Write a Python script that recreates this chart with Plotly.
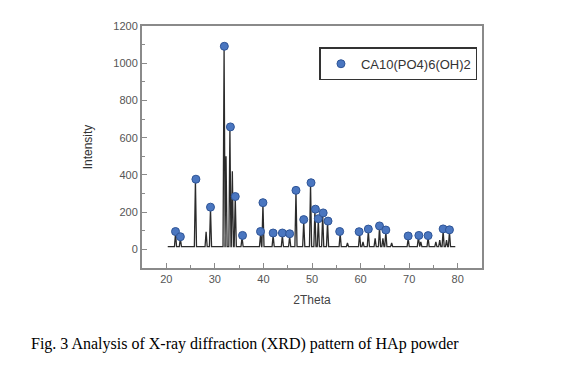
import plotly.graph_objects as go

# Diffraction line: peak positions (2Theta) and peak-top intensities
peak_pos = [21.9, 22.9, 26.0, 28.2, 29.1, 31.9, 32.3, 33.1, 33.6, 34.2, 35.6,
            39.4, 39.9, 42.0, 43.9, 45.4, 46.7, 48.3, 49.7, 50.6, 51.3, 52.2,
            53.2, 55.8, 57.3, 59.8, 60.5, 61.6, 63.0, 63.9, 64.6, 65.2, 66.4,
            69.8, 71.9, 72.4, 73.9, 75.5, 76.3, 77.0, 77.7, 78.3]
peak_int = [85, 60, 370, 95, 220, 1080, 500, 650, 420, 280, 65,
            80, 245, 75, 75, 70, 310, 150, 350, 210, 160, 190,
            145, 85, 35, 85, 40, 100, 60, 120, 60, 95, 35,
            60, 65, 40, 65, 40, 50, 100, 50, 95]
baseline = 15
x_start, x_end = 20.3, 79.5

# Indexed HAp reflections (markers)
mark_pos = [21.9, 22.9, 26.1, 29.1, 31.95, 33.2, 34.2, 35.7, 39.4, 39.9, 42.0,
            43.9, 45.4, 46.7, 48.3, 49.8, 50.7, 51.3, 52.3, 53.3, 55.7, 59.7,
            61.6, 63.9, 65.2, 69.8, 72.0, 73.9, 77.0, 78.3]
mark_int = [96, 68, 377, 227, 1091, 658, 284, 75, 96, 251, 88,
            88, 84, 317, 160, 358, 216, 165, 196, 152, 96, 95,
            109, 126, 104, 72, 75, 74, 110, 105]

x_ticks = [20, 30, 40, 50, 60, 70, 80]
y_ticks = [0, 200, 400, 600, 800, 1000, 1200]

# build the stick/triangle line from the peak list
hw = 0.22
lx, ly = [x_start], [baseline]
for p, h in zip(peak_pos, peak_int):
    lx += [p - hw, p, p + hw]
    ly += [baseline, h, baseline]
lx.append(x_end)
ly.append(baseline)

fig = go.Figure()
fig.add_trace(go.Scatter(x=lx, y=ly, mode="lines",
                         line=dict(color="#2b2b2b", width=1.3),
                         showlegend=False, hoverinfo="skip"))
fig.add_trace(go.Scatter(x=mark_pos, y=mark_int, mode="markers",
                         name="CA10(PO4)6(OH)2",
                         marker=dict(size=8, color="#4a76c0",
                                     line=dict(color="#2f5597", width=1))))

axis_common = dict(showline=True, linecolor="#8a8a8a", linewidth=2, mirror=True,
                   ticks="inside", ticklen=5, tickcolor="#8a8a8a", tickwidth=1,
                   showgrid=False, zeroline=False,
                   tickfont=dict(family="Liberation Sans, Arial", size=11, color="#555"))

fig.update_xaxes(range=[15, 85], tickvals=x_ticks,
                 minor=dict(ticks="inside", ticklen=3, dtick=5, tickcolor="#8a8a8a"),
                 title=dict(text="2Theta", font=dict(family="Liberation Sans, Arial", size=12, color="#444"),
                            standoff=11),
                 **axis_common)
fig.update_yaxes(range=[-100, 1200], tickvals=y_ticks,
                 minor=dict(ticks="inside", ticklen=3, dtick=100, tickcolor="#8a8a8a"),
                 title=dict(text="Intensity", font=dict(family="Liberation Sans, Arial", size=12, color="#333"),
                            standoff=18),
                 **axis_common)

fig.update_layout(
    width=556, height=357,
    margin=dict(l=134, r=82, t=14, b=97),
    paper_bgcolor="white", plot_bgcolor="white",
    legend=dict(x=0.522, y=0.912, xanchor="left", yanchor="top",
                bordercolor="#333", borderwidth=1.5, bgcolor="white",
                font=dict(family="Liberation Sans, Arial", size=13, color="#333"),
                itemwidth=30, tracegroupgap=0),
    annotations=[dict(text="Fig. 3 Analysis of X-ray diffraction (XRD) pattern of HAp powder",
                      xref="paper", yref="paper", x=-0.333, y=-0.313,
                      xanchor="left", yanchor="middle", showarrow=False,
                      font=dict(family="Liberation Serif, Times New Roman", size=16, color="black"))],
)

fig.write_html("out.html")
